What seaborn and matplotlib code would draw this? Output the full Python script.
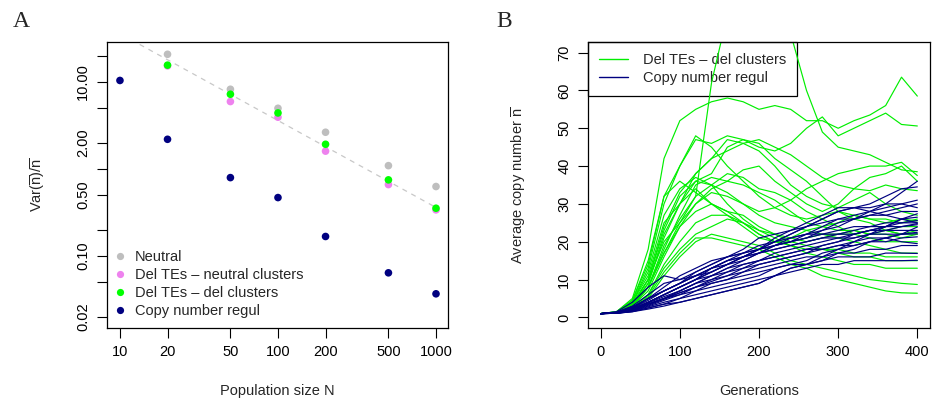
import numpy as np
import pandas as pd
import matplotlib
matplotlib.use("Agg")
import matplotlib.pyplot as plt
import seaborn as sns
from matplotlib.lines import Line2D

# ---------------- Panel A data ----------------
pop_sizes = [10, 20, 50, 100, 200, 500, 1000]
neutral = [np.nan, 20.8, 8.24, 4.98, 2.64, 1.09, 0.627]
del_neutral_clusters = [np.nan, 15.3, 5.95, 3.93, 1.60, 0.66, 0.338]
del_del_clusters = [np.nan, 15.6, 7.22, 4.40, 1.92, 0.748, 0.353]
copy_number_regul = [10.4, 2.19, 0.794, 0.468, 0.167, 0.0638, 0.0366]
series_names_a = ["Neutral", "Del TEs \u2013 neutral clusters",
                  "Del TEs \u2013 del clusters", "Copy number regul"]
ref_coef = 360.0          # dashed reference line: coef / N
ref_N = [8, 1000]
y_ticks_a = [0.02, 0.05, 0.1, 0.2, 0.5, 1, 2, 5, 10, 20]
y_labels_a = ["0.02", "", "0.10", "", "0.50", "", "2.00", "", "10.00", ""]

# ---------------- Panel B data ----------------
generations = list(range(0, 401, 20))
green_runs = [
    [1, 1.3, 3.5, 10, 20, 25, 32, 62, 80, 86, 85, 82, 75, 60, 49, 45, 44, 43, 41, 39, 38.5],
    [1, 1.5, 5, 18, 42, 52, 55, 57, 58, 57, 55, 56, 55, 52, 52, 50, 52, 53.5, 56, 63.5, 58.5],
    [1, 1.4, 4, 13, 30, 40, 47, 46, 48, 47, 45, 44, 46, 50, 53, 48, 50, 52, 54, 51, 50.6],
    [1, 1.3, 3.5, 10, 24, 33, 38, 42, 47, 46, 44, 40, 35, 32, 30, 29, 31, 33, 30, 28, 27],
    [1, 1.3, 3, 9, 21, 30, 36, 38, 45, 47, 46, 42, 39, 36, 32, 28, 26, 25, 23, 22, 22],
    [1, 1.5, 4.5, 15, 32, 36, 33, 30, 28, 27, 24, 22, 20, 19, 18, 17, 16, 16, 15, 15, 15],
    [1, 1.3, 3, 8, 18, 27, 35, 37, 36, 39, 40, 36, 33, 30, 28, 30, 34, 37, 38, 40, 36],
    [1, 1.3, 3, 7, 16, 24, 30, 33, 32, 30, 28, 29, 31, 34, 36, 38, 39, 40, 40, 41, 37.5],
    [1, 1.3, 3, 8, 17, 24, 28, 30, 28, 25, 22, 20, 21, 23, 24, 25, 27, 26, 25, 26, 25.5],
    [1, 1.2, 2.5, 6, 14, 20, 25, 27, 27, 25, 22, 20, 19, 18, 18, 18, 17, 17, 16, 16, 16],
    [1, 1.2, 2.5, 6, 13, 18, 22, 24, 26, 25, 23, 22, 21, 20, 21, 22, 22, 23, 23, 24, 24],
    [1, 1.3, 3.5, 10, 23, 32, 36, 35, 33, 30, 27, 25, 24, 23, 22, 21, 20, 19, 18, 17, 17],
    [1, 1.4, 4, 12, 27, 34, 37, 35, 30, 26, 23, 21, 19, 17, 16, 15, 14, 14, 13, 13, 13],
    [1, 1.2, 2.2, 5, 11, 16, 20, 22, 21, 20, 19, 17, 15, 14, 13, 12, 11, 10, 9.5, 9, 8.7],
    [1, 1.2, 2.2, 5.5, 12, 17, 21, 21, 20, 19, 18, 16, 14, 13, 11, 10, 9, 8, 7, 6.5, 6.4],
    [1, 1.4, 4, 11, 25, 30, 34, 30, 27, 24, 21, 20, 20, 21, 22, 22, 23, 22, 23, 22, 23],
    [1, 1.3, 3, 8, 19, 26, 32, 35, 38, 37, 34, 33, 31, 28, 26, 24, 22, 21, 20, 20, 20],
    [1, 1.3, 3.5, 9, 22, 30, 38, 42, 44, 46, 47, 45, 43, 40, 37, 35, 34, 33.5, 35, 34, 33.5],
    [1, 1.3, 3, 8, 17, 25, 30, 34, 36, 35, 33, 31, 28, 25, 24, 23, 23, 22, 22, 21, 22],
    [1, 1.5, 4.5, 14, 32, 40, 48, 45, 40, 36, 32, 29, 27, 26, 27, 28, 27, 26, 26, 25, 26],
]
blue_runs = [
    [1, 1.2, 2, 3.5, 5, 7, 9, 11, 13, 15, 17, 19, 20, 21, 23, 24, 26, 28, 30, 33, 36],
    [1, 1.3, 2.5, 5, 7, 9, 11, 13, 14, 16, 18, 21, 23, 25, 27, 29, 29, 30, 32, 34, 34.5],
    [1, 1.2, 2, 4, 6, 8, 10, 12, 14, 15, 17, 19, 20, 22, 24, 26, 27, 28, 29, 30, 31],
    [1, 1.4, 3, 6, 9, 10, 12, 14, 16, 17, 19, 20, 21, 22, 23, 25, 26, 27, 28, 29, 30],
    [1, 1.1, 1.5, 2.5, 3.5, 5, 7, 8, 9, 10, 11, 13, 14, 15, 17, 18, 20, 22, 24, 26, 27.4],
    [1, 1.2, 2.2, 4, 6, 8, 10, 11, 13, 14, 15, 16, 17, 18, 19, 20, 22, 23, 24, 26, 26.5],
    [1, 1.3, 2.6, 5, 8, 11, 13, 15, 16, 17, 18, 19, 21, 22, 22, 23, 24, 24, 25, 25, 25.6],
    [1, 1.2, 2, 3.5, 5, 6.5, 8, 9.5, 11, 12, 14, 15, 16, 17, 19, 20, 21, 22, 23, 24, 24.8],
    [1, 1.1, 1.6, 2.5, 3.5, 4, 5, 6, 7, 8, 9, 11, 13, 14, 15, 17, 18, 20, 21, 22, 23.9],
    [1, 1.2, 2.3, 4, 6, 8, 10, 12, 14, 16, 18, 19, 20, 21, 22, 22, 22, 23, 23, 23, 23],
    [1, 1.5, 4, 8, 11, 10, 11, 13, 15, 16, 17, 18, 19, 20, 21, 21, 21, 22, 22, 22, 22.1],
    [1, 1.2, 2, 3.5, 5, 7, 9, 10, 12, 13, 15, 16, 17, 18, 18, 19, 19, 20, 20, 21, 21.3],
    [1, 1.1, 1.8, 3, 4.5, 6, 8, 9, 10, 12, 13, 14, 15, 16, 16, 17, 17, 18, 18, 19, 19],
    [1, 1.2, 2, 3.5, 5, 6, 7, 9, 10, 11, 12, 13, 14, 14, 15, 16, 16, 16, 17, 17, 16.9],
    [1, 1.1, 1.7, 2.8, 4, 5, 6, 7, 8, 9, 10, 11, 12, 13, 14, 14, 15, 15, 15, 15, 15.1],
    [1, 1.3, 2.6, 5, 7, 9, 12, 14, 16, 18, 21, 22, 23, 24, 25, 26, 26, 27, 27, 28, 28],
    [1, 1.2, 2.2, 4, 6, 8, 10, 13, 15, 17, 18, 20, 22, 24, 26, 28, 29, 28, 27, 26, 25],
    [1, 1.1, 1.5, 2.2, 3, 4, 5, 6, 7, 8, 9, 11, 13, 14, 16, 18, 19, 20, 21, 22, 22.5],
    [1, 1.3, 2.8, 5, 7, 9, 11, 12, 14, 16, 17, 18, 19, 20, 21, 22, 23, 24, 24, 25, 25],
    [1, 1.2, 2.1, 3.8, 5.5, 7, 9, 11, 12, 14, 15, 17, 18, 19, 20, 21, 22, 23, 24, 24, 24.5],
    [1, 1.2, 2.4, 4.5, 7, 9, 11, 13, 15, 16, 18, 20, 22, 24, 26, 28, 29, 29, 30, 30, 29],
    [1, 1.1, 1.9, 3.2, 4.8, 6.5, 8, 10, 11, 13, 14, 15, 16, 17, 18, 19, 20, 21, 21, 20, 19.5],
]
series_names_b = ["Del TEs \u2013 del clusters", "Copy number regul"]

# ---------------- style ----------------
sns.set_theme(style="ticks")
plt.rcParams["font.family"] = ["Liberation Sans", "DejaVu Sans"]
plt.rcParams["mathtext.fontset"] = "custom"
plt.rcParams["mathtext.rm"] = "Liberation Sans"
plt.rcParams["mathtext.it"] = "Liberation Sans:italic"
FS = 10.5

col_a = {series_names_a[0]: "#BEBEBE", series_names_a[1]: "#EE82EE",
         series_names_a[2]: "#00FF00", series_names_a[3]: "#000080"}
col_b = {series_names_b[0]: "#00EE00", series_names_b[1]: "#000080"}

fig = plt.figure(figsize=(9.41, 4.03), dpi=100)
W, H = 941, 403
axA = fig.add_axes([107 / W, 1 - 328 / H, 341 / W, 286 / H])
axB = fig.add_axes([588 / W, 1 - 328 / H, 342 / W, 286 / H])


def style_axes(ax):
    for s in ax.spines.values():
        s.set_visible(True)
        s.set_color("black")
        s.set_linewidth(0.9)
    ax.tick_params(direction="out", length=7, width=0.8, colors="black",
                   labelsize=FS, pad=5)
    ax.tick_params(axis="y", labelrotation=90)
    for lab in ax.get_yticklabels():
        lab.set_va("center")


# ---------------- Panel A ----------------
rows = []
for name, vals in zip(series_names_a,
                      [neutral, del_neutral_clusters, del_del_clusters, copy_number_regul]):
    for n, v in zip(pop_sizes, vals):
        if not np.isnan(v):
            rows.append({"N": n, "ratio": v, "series": name})
dfa = pd.DataFrame(rows)

ref_x = np.array(ref_N, dtype=float)
axA.plot(ref_x, ref_coef / ref_x, color="#C8C8C8", lw=0.9, ls=(0, (4, 4)), zorder=1)
sns.scatterplot(data=dfa, x="N", y="ratio", hue="series", palette=col_a,
                s=30, edgecolor="none", linewidth=0, legend=False, ax=axA, zorder=3)
axA.set_xscale("log")
axA.set_yscale("log")
axA.set_xlim(8.28, 1191)
axA.set_ylim(0.0148, 28.8)
axA.set_xticks(pop_sizes)
axA.set_xticklabels([str(p) for p in pop_sizes])
axA.set_yticks(y_ticks_a)
axA.set_yticklabels(y_labels_a)
axA.minorticks_off()
style_axes(axA)
axA.set_xlabel("Population size N", fontsize=FS)
axA.set_ylabel(r"Var($\overline{\mathrm{n}}$)/$\overline{\mathrm{n}}$", fontsize=FS)
axA.xaxis.set_label_coords(0.5, -0.195)
axA.yaxis.set_label_coords(-0.175, 0.5)

handles_a = [Line2D([], [], ls="none", marker="o", ms=5.2, mec="none",
                    mfc=col_a[n]) for n in series_names_a]
legA = axA.legend(handles_a, series_names_a, loc="lower left",
                  bbox_to_anchor=(0.0, 0.01), frameon=False, fontsize=FS,
                  handlelength=0.8, handletextpad=0.6, labelspacing=0.26,
                  borderpad=0.3, borderaxespad=0.2)

# ---------------- Panel B ----------------
rows = []
k = 0
for name, runs in [(series_names_b[0], green_runs), (series_names_b[1], blue_runs)]:
    for run in runs:
        for g, v in zip(generations, run):
            rows.append({"gen": g, "copies": v, "series": name, "run": k})
        k += 1
dfb = pd.DataFrame(rows)
sns.lineplot(data=dfb, x="gen", y="copies", hue="series", units="run",
             estimator=None, palette=col_b, lw=0.85, legend=False, ax=axB,
             zorder=2)
axB.set_xlim(-16, 416)
axB.set_ylim(-2.8, 72.8)
axB.set_xticks([0, 100, 200, 300, 400])
axB.set_yticks([0, 10, 20, 30, 40, 50, 60, 70])
style_axes(axB)
axB.set_xlabel("Generations", fontsize=FS)
axB.set_ylabel(r"Average copy number $\overline{\mathrm{n}}$", fontsize=FS)
axB.xaxis.set_label_coords(0.5, -0.195)
axB.yaxis.set_label_coords(-0.175, 0.5)

handles_b = [Line2D([], [], color=col_b[n], lw=1.0) for n in series_names_b]
legB = axB.legend(handles_b, series_names_b, loc="upper left",
                  bbox_to_anchor=(0, 1), borderaxespad=0, frameon=True,
                  fancybox=False, framealpha=1, edgecolor="black", fontsize=FS,
                  handlelength=2.0, handletextpad=1.0, labelspacing=0.3,
                  borderpad=0.75)
legB.get_frame().set_linewidth(0.9)
legB.set_zorder(1.5)

# panel letters
fig.text(13 / W, 1 - 27 / H, "A", fontsize=17, family=["Liberation Serif", "DejaVu Serif"],
         va="baseline", ha="left")
fig.text(496 / W, 1 - 27 / H, "B", fontsize=17, family=["Liberation Serif", "DejaVu Serif"],
         va="baseline", ha="left")

fig.savefig("out.png", dpi=100)
